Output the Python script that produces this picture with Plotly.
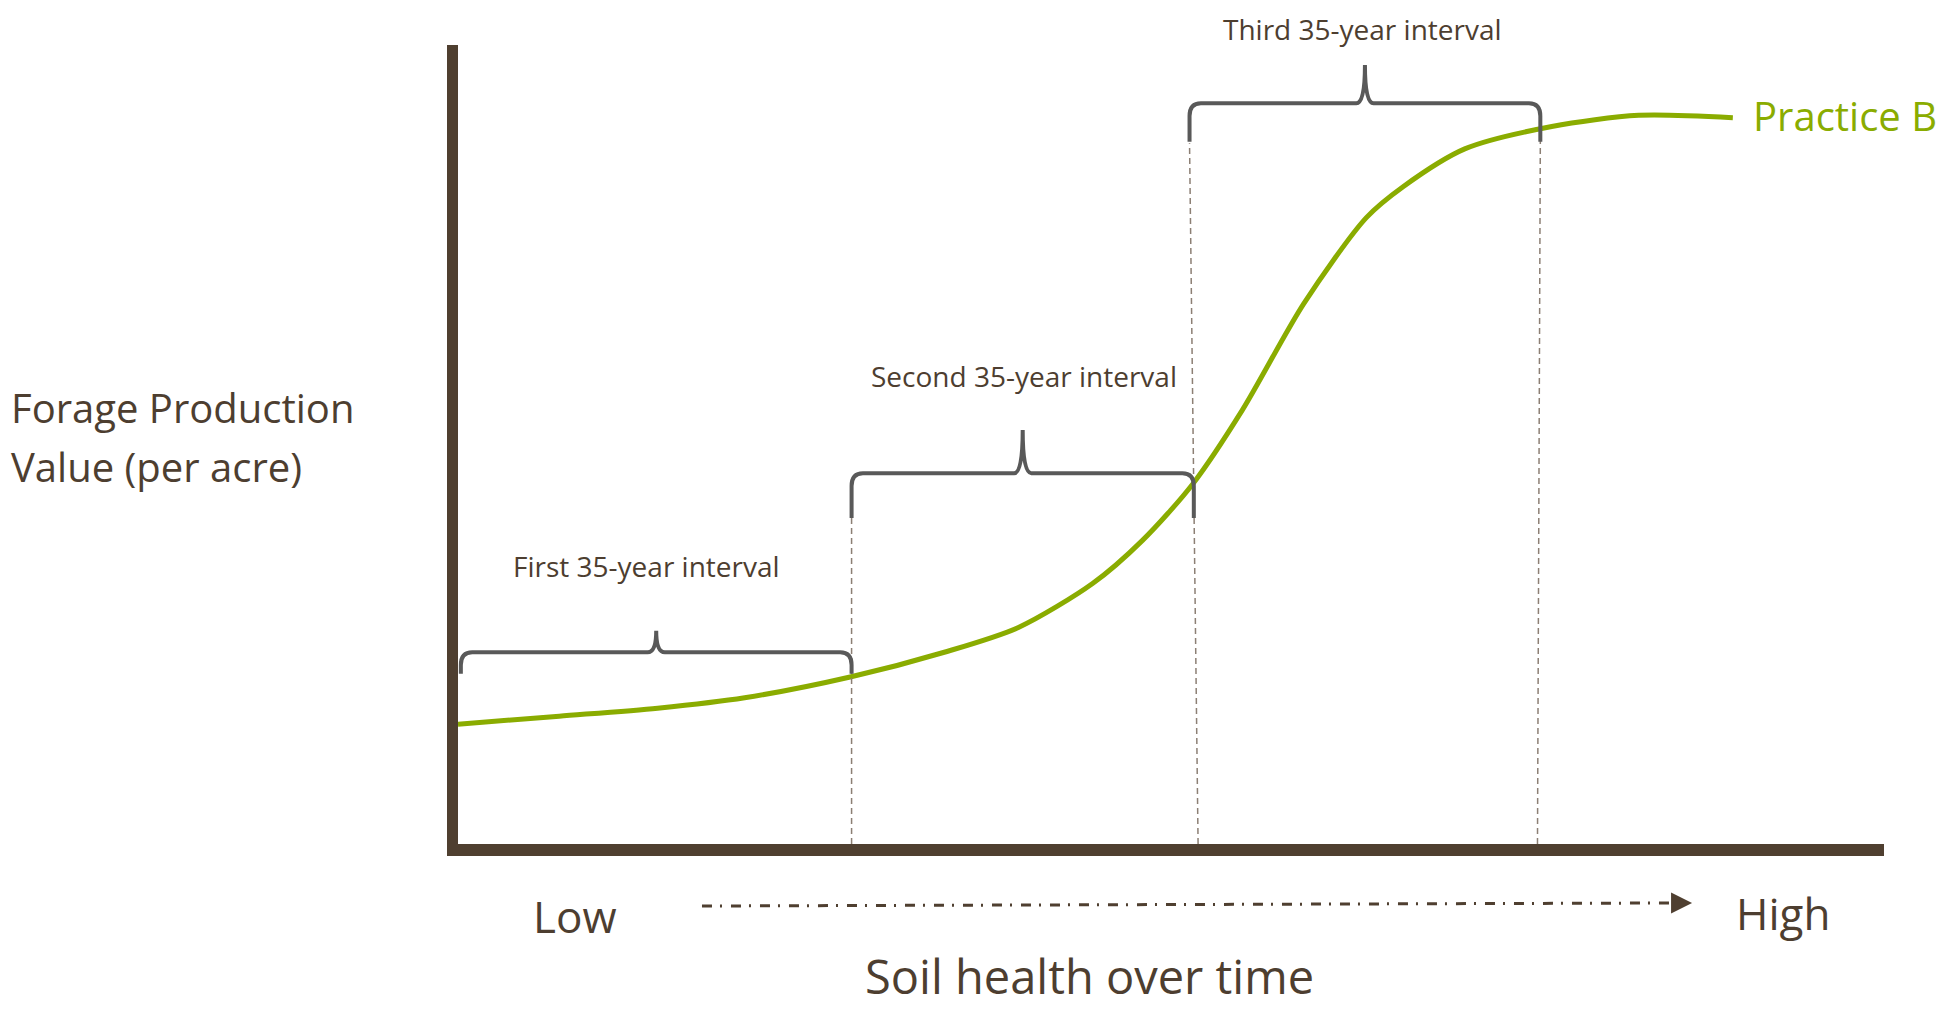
import plotly.graph_objects as go

# ---- data (conceptual units: x = soil health 0..100, y = forage value 0..100)
curve_x = [0, 7.1, 14.0, 20.1, 27.5, 34.1, 39.3, 44.5, 48.0, 51.5, 55.0, 59.3, 63.7, 66.3, 70.6, 76.7, 82.8, 89.4]
curve_y = [15.0, 16.0, 17.0, 18.3, 20.9, 24.0, 27.1, 32.6, 38.0, 45.0, 54.3, 67.6, 78.4, 82.3, 87.0, 89.8, 91.2, 90.9]

interval_labels = ["First 35-year interval", "Second 35-year interval", "Third 35-year interval"]
brace_x0 = [0.2, 27.6, 51.3]
brace_x1 = [27.6, 51.6, 75.9]
brace_y = [24.0, 46.4, 92.7]
brace_tip = [26.7, 51.8, 97.5]
brace_end = [21.3, 40.8, 87.9]
label_x = [13.2, 39.7, 63.4]
label_y = [34.8, 58.6, 103.3]

guide_x_top = [27.6, 51.3, 75.9]
guide_x_bot = [27.6, 51.9, 75.7]
guide_y_top = [40.8, 87.7, 88.1]

series_name = "Practice B"
y_title_lines = ["Forage Production", "Value (per acre)"]
x_title = "Soil health over time"
low_label, high_label = "Low", "High"

BROWN = "#4f3f30"
TEXT = "#4d3e30"
GREEN = "#8aac00"
GRAY = "#595959"
DASH = "#8c7f74"
FONT = "Open Sans"

YMAX = 100.0

fig = go.Figure()
fig.add_trace(go.Scatter(x=curve_x, y=curve_y, mode="lines",
                         line=dict(color=GREEN, width=5, shape="spline", smoothing=0.8),
                         hoverinfo="skip", showlegend=False))

shapes = []
for xt, xb, yt in zip(guide_x_top, guide_x_bot, guide_y_top):
    shapes.append(dict(type="line", xref="x", yref="y", x0=xb, y0=0, x1=xt, y1=yt,
                       line=dict(color=DASH, width=1.5, dash="6px,4px")))

rx, ry = 0.8, 1.6
for x0, x1, y, tip, end in zip(brace_x0, brace_x1, brace_y, brace_tip, brace_end):
    xm = (x0 + x1) / 2
    p = (f"M {x0},{end} L {x0},{y - ry} Q {x0},{y} {x0 + rx},{y} "
         f"L {xm - 0.6},{y} Q {xm},{y} {xm},{tip} "
         f"Q {xm},{y} {xm + 0.6},{y} L {x1 - rx},{y} Q {x1},{y} {x1},{y - ry} L {x1},{end}")
    shapes.append(dict(type="path", xref="x", yref="y", path=p,
                       line=dict(color=GRAY, width=4)))

# dash-dot arrow under x axis
shapes.append(dict(type="line", xref="paper", yref="paper", x0=0.1711, y0=-0.0776, x1=0.8541, y1=-0.0738,
                   line=dict(color=BROWN, width=3, dash="10px,8px,2px,9px")))

annotations = []
for t, x, y in zip(interval_labels, label_x, label_y):
    if y <= YMAX:
        annotations.append(dict(x=x, y=y, xref="x", yref="y", text=t, showarrow=False,
                                xanchor="center", yanchor="middle",
                                font=dict(family=FONT, size=28, color=TEXT)))
    else:
        # label above the plot area: pin to the top edge of the figure
        annotations.append(dict(x=x, y=1.045, xref="x", yref="paper", text=t, showarrow=False,
                                xanchor="center", yanchor="top", borderpad=0,
                                font=dict(family=FONT, size=28, color=TEXT)))
annotations.append(dict(x=curve_x[-1] + 1.3, y=curve_y[-1] + 0.3, xref="x", yref="y", text=series_name,
                        showarrow=False, xanchor="left", yanchor="middle",
                        font=dict(family=FONT, size=40, color=GREEN)))
for i, line in enumerate(y_title_lines):
    annotations.append(dict(x=-0.3149, y=0.5469 - 0.075 * i, xref="paper", yref="paper", text=line,
                            showarrow=False, xanchor="left", yanchor="middle",
                            font=dict(family=FONT, size=40, color=TEXT)))
annotations.append(dict(x=0.0817, y=-0.0901, xref="paper", yref="paper", text=low_label, showarrow=False,
                        xanchor="center", yanchor="middle", font=dict(family=FONT, size=44, color=TEXT)))
annotations.append(dict(x=0.929, y=-0.0864, xref="paper", yref="paper", text=high_label, showarrow=False,
                        xanchor="center", yanchor="middle", font=dict(family=FONT, size=44, color=TEXT)))
annotations.append(dict(x=0.4425, y=-0.2065, xref="paper", yref="paper", text=x_title, showarrow=False,
                        xanchor="center", yanchor="bottom", borderpad=0,
                        font=dict(family=FONT, size=47, color=TEXT)))
annotations.append(dict(x=0.8654, y=-0.0738, xref="paper", yref="paper", text="", showarrow=True,
                        ax=-18, ay=0, arrowhead=2, arrowsize=1.4, arrowwidth=3, arrowcolor=BROWN))

fig.update_layout(
    width=1939, height=1002,
    margin=dict(l=450, r=63, t=37, b=166),
    paper_bgcolor="white", plot_bgcolor="white",
    xaxis=dict(range=[0, 100], showline=True, linecolor=BROWN, linewidth=12,
               showgrid=False, zeroline=False, showticklabels=False, ticks=""),
    yaxis=dict(range=[0, YMAX], showline=True, linecolor=BROWN, linewidth=11,
               showgrid=False, zeroline=False, showticklabels=False, ticks=""),
    shapes=shapes, annotations=annotations, showlegend=False,
)

fig.write_html("out.html")
